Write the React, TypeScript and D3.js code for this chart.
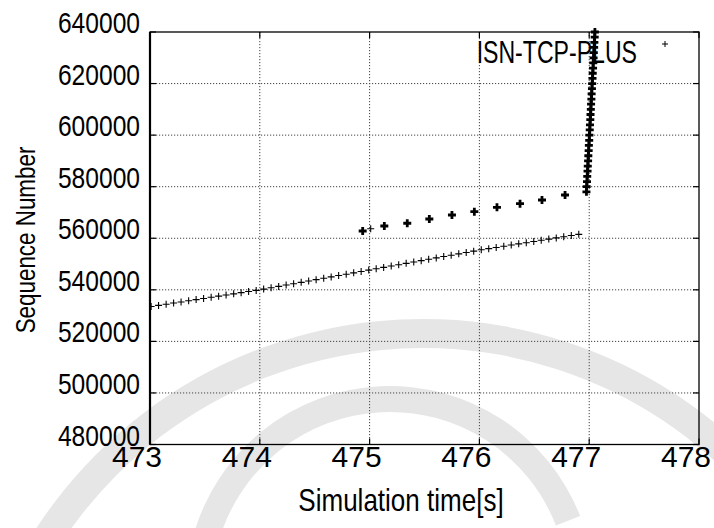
import React from "react";
import * as d3 from "d3";

const W = 714;
const H = 528;

const xTicks = [473, 474, 475, 476, 477, 478];
const yTicks = [480000, 500000, 520000, 540000, 560000, 580000, 600000, 620000, 640000];

const seriesName = "ISN-TCP-PLUS";

// steady flow of segments (thin plus markers)
const steadyTimes = [
  473.010, 473.078, 473.147, 473.215, 473.283, 473.352, 473.420, 473.488, 473.557, 473.625,
  473.693, 473.762, 473.830, 473.898, 473.967, 474.035, 474.103, 474.172, 474.240, 474.308,
  474.377, 474.445, 474.513, 474.582, 474.650, 474.718, 474.787, 474.855, 474.923, 474.992,
  475.060, 475.128, 475.197, 475.265, 475.333, 475.402, 475.470, 475.538, 475.607, 475.675,
  475.743, 475.812, 475.880, 475.948, 476.017, 476.085, 476.153, 476.222, 476.290, 476.358,
  476.427, 476.495, 476.563, 476.632, 476.700, 476.768, 476.837, 476.905,
];
const steadySeq = [
  533520, 533960, 534410, 534860, 535300, 535760, 536200, 536650, 537100, 537540,
  537990, 538440, 538890, 539330, 539780, 540270, 540790, 541320, 541850, 542370,
  542900, 543430, 543950, 544480, 545010, 545530, 546060, 546580, 547110, 547640,
  548160, 548690, 549220, 549740, 550260, 550800, 551320, 551840, 552370, 552900,
  553420, 553950, 554480, 555000, 555520, 555970, 556430, 556900, 557360, 557820,
  558280, 558740, 559200, 559670, 560130, 560580, 561050, 561510,
];

// overplotted (bold) upper segments
const upperTimes = [474.937, 475.134, 475.343, 475.544, 475.750, 475.954, 476.160, 476.370, 476.570, 476.780];
const upperSeq = [562820, 564760, 565810, 567470, 569020, 570300, 572010, 573410, 574840, 576780];
const extraTimes = [475.010];
const extraSeq = [563710];

// burst (dense bold pluses)
const burstTimes = [
  476.975, 476.977, 476.980, 476.982, 476.985, 476.987, 476.990, 476.992, 476.995, 476.997,
  477.000, 477.002, 477.005, 477.007, 477.010, 477.012, 477.015, 477.017, 477.020, 477.022,
  477.025, 477.027, 477.030, 477.032, 477.035, 477.037, 477.040, 477.042, 477.045, 477.047,
  477.050, 477.052,
];
const burstSeq = [
  578000, 580000, 582000, 584000, 586000, 588000, 590000, 592000, 594000, 596000,
  598000, 600000, 602000, 604000, 606000, 608000, 610000, 612000, 614000, 616000,
  618000, 620000, 622000, 624000, 626000, 628000, 630000, 632000, 634000, 636000,
  638000, 640000,
];

const L = 150, R = 699, T = 32, B = 444.5;

const SANS = "'Liberation Sans', Arial, sans-serif";

function Plus({ cx, cy, h, sw }: { cx: number; cy: number; h: number; sw: number }) {
  return (
    <path
      d={`M${cx - h},${cy}H${cx + h}M${cx},${cy - h}V${cy + h}`}
      stroke="#000"
      strokeWidth={sw}
      fill="none"
    />
  );
}

function NText({
  x,
  y,
  size,
  sx,
  anchor,
  rotate = 0,
  children,
}: {
  x: number;
  y: number;
  size: number;
  sx: number;
  anchor: string;
  rotate?: number;
  children: React.ReactNode;
}) {
  return (
    <text
      transform={`translate(${x},${y}) rotate(${rotate}) scale(${sx},1)`}
      fontFamily={SANS}
      fontSize={size}
      textAnchor={anchor}
      fill="#000"
    >
      {children}
    </text>
  );
}

export default function App() {
  const x = d3.scaleLinear().domain([473, 478]).range([L, R]);
  const y = d3.scaleLinear().domain([480000, 640000]).range([B, T]);

  const steady = steadyTimes.map((t, i) => [t, steadySeq[i]]);
  const upper = upperTimes.map((t, i) => [t, upperSeq[i]]);
  const extra = extraTimes.map((t, i) => [t, extraSeq[i]]);
  const burst = burstTimes.map((t, i) => [t, burstSeq[i]]);

  const arc = d3.arc();
  const band = arc({
    innerRadius: 433,
    outerRadius: 462,
    startAngle: -1.2,
    endAngle: 1.0,
  } as any) as string;
  const inner = arc({
    innerRadius: 178,
    outerRadius: 204,
    startAngle: -1.3,
    endAngle: 1.2,
  } as any) as string;

  return (
    <div style={{ position: "fixed", left: 0, top: 0, width: W, height: H, background: "#fff" }}>
      <svg width={W} height={H} viewBox={`0 0 ${W} ${H}`} style={{ display: "block" }}>
        <rect x={0} y={0} width={W} height={H} fill="#fff" />
        {/* watermark */}
        <g fill="#e6e6e6">
          <path d={band} transform="translate(423,781)" />
          <path d={inner} transform="translate(390,590)" />
        </g>

        {/* grid */}
        <g stroke="#444" strokeWidth={1} strokeDasharray="1.2,1.8">
          {xTicks.slice(1, -1).map((t) => (
            <line key={"gx" + t} x1={x(t)} x2={x(t)} y1={T} y2={B} />
          ))}
          {yTicks.slice(1, -1).map((v) => (
            <line key={"gy" + v} x1={L} x2={R} y1={y(v)} y2={y(v)} />
          ))}
        </g>

        {/* ticks */}
        <g stroke="#000" strokeWidth={1.2}>
          {xTicks.map((t) => (
            <g key={"tx" + t}>
              <line x1={x(t)} x2={x(t)} y1={B} y2={B - 6} />
              <line x1={x(t)} x2={x(t)} y1={T} y2={T + 6} />
            </g>
          ))}
          {yTicks.map((v) => (
            <g key={"ty" + v}>
              <line x1={L} x2={L + 6} y1={y(v)} y2={y(v)} />
              <line x1={R} x2={R - 6} y1={y(v)} y2={y(v)} />
            </g>
          ))}
        </g>

        {/* frame */}
        <rect x={L} y={T} width={R - L} height={B - T} fill="none" stroke="#000" strokeWidth={1.3} />
        <line x1={L} x2={L} y1={T} y2={B} stroke="#000" strokeWidth={2.2} />

        {/* tick labels */}
        {yTicks.map((v) => (
          <NText key={"ly" + v} x={140} y={y(v) + 1} size={30} sx={0.82} anchor="end">
            {v}
          </NText>
        ))}
        <g fontFamily={SANS} fontSize={30} fill="#000" textAnchor="middle">
          {xTicks.map((t) => (
            <text key={"lx" + t} x={x(t) - 13} y={467}>
              {t}
            </text>
          ))}
        </g>

        {/* axis titles */}
        <NText x={401} y={511} size={31} sx={0.84} anchor="middle">
          Simulation time[s]
        </NText>
        <NText x={35} y={240} size={28} sx={0.8} anchor="middle" rotate={-90}>
          Sequence Number
        </NText>

        {/* data */}
        <defs>
          <clipPath id="plotclip">
            <rect x={L} y={T - 4} width={R - L} height={B - T + 4} />
          </clipPath>
        </defs>
        <g clipPath="url(#plotclip)">
          {steady.map(([t, v], i) => (
            <Plus key={"s" + i} cx={x(t)} cy={y(v)} h={3.5} sw={1.1} />
          ))}
          {extra.map(([t, v], i) => (
            <Plus key={"e" + i} cx={x(t)} cy={y(v)} h={3.5} sw={1.1} />
          ))}
          {upper.map(([t, v], i) => (
            <Plus key={"u" + i} cx={x(t)} cy={y(v)} h={4} sw={2.8} />
          ))}
          {burst.map(([t, v], i) => (
            <Plus key={"b" + i} cx={x(t)} cy={y(v)} h={4} sw={2.8} />
          ))}
        </g>

        {/* legend */}
        <NText x={637} y={63} size={31} sx={0.745} anchor="end">
          {seriesName}
        </NText>
        <Plus cx={665} cy={44} h={3} sw={1} />
      </svg>
    </div>
  );
}
